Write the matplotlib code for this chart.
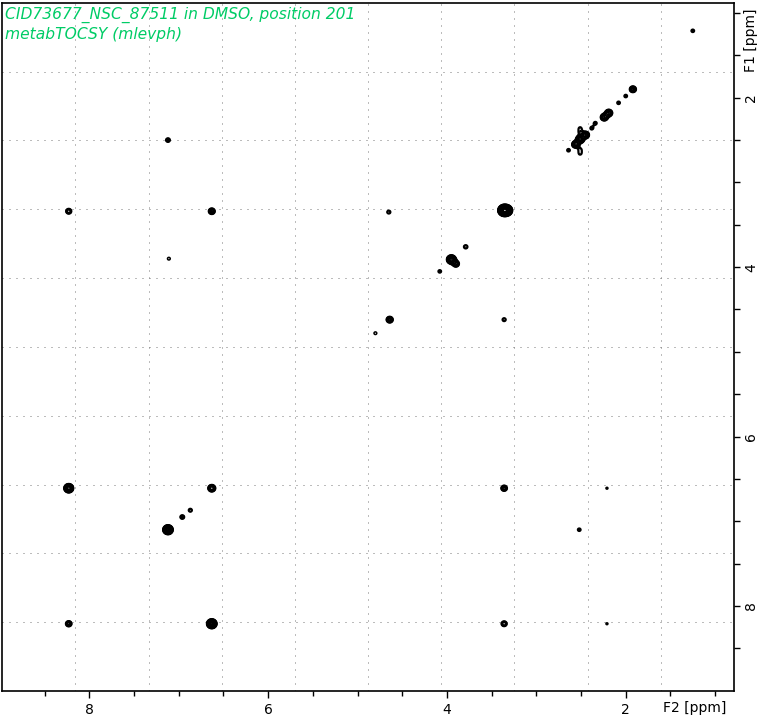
import numpy as np
import matplotlib
matplotlib.use("Agg")
import matplotlib.pyplot as plt

# Peak list: F2 (ppm), F1 (ppm), relative intensity
f2_ppm = [1.25, 1.92, 2.00, 2.08, 2.19, 2.24, 2.34, 2.38, 2.45, 2.51, 2.56, 2.64,
          2.51, 2.51, 2.51, 2.51,
          7.12,
          8.23, 6.63, 4.65, 3.36, 3.33,
          7.11,
          3.95, 3.90, 3.79, 4.08,
          4.64, 4.80, 3.36,
          8.23, 6.63, 3.36, 2.21,
          7.12, 6.96, 6.87, 2.52,
          8.23, 6.63, 3.36, 2.21]
f1_ppm = [1.21, 1.90, 1.98, 2.06, 2.18, 2.23, 2.30, 2.36, 2.44, 2.49, 2.55, 2.62,
          2.36, 2.41, 2.61, 2.66,
          2.50,
          3.34, 3.34, 3.35, 3.33, 3.33,
          3.90,
          3.91, 3.96, 3.76, 4.05,
          4.62, 4.78, 4.62,
          6.61, 6.61, 6.61, 6.61,
          7.10, 6.95, 6.87, 7.10,
          8.21, 8.21, 8.21, 8.21]
intensity = [1.3, 3.0, 1.3, 1.3, 4.0, 4.0, 1.3, 1.3, 4.0, 6.0, 4.0, 1.3,
             1.15, 1.15, 1.15, 1.15,
             1.6,
             2.2, 2.8, 1.4, 40.0, 20.0,
             1.2,
             9.0, 3.0, 1.5, 1.3,
             3.0, 1.2, 1.4,
             9.0, 4.0, 2.5, 1.1,
             12.0, 1.6, 1.4, 1.3,
             2.5, 12.0, 2.2, 1.1]

x_lim = (8.973, 0.789)
y_lim = (9.004, 0.878)

fig = plt.figure(figsize=(7.63, 7.20), dpi=100)
ax = fig.add_axes([2.3 / 763, 1 - 691 / 720, (734 - 2.3) / 763, (691 - 2.7) / 720])

# build the 2D spectrum from the peak list and contour it
gx = np.linspace(x_lim[1], x_lim[0], 1500)
gy = np.linspace(y_lim[1], y_lim[0], 1500)
X, Y = np.meshgrid(gx, gy)
Z = np.zeros_like(X)
sig = 0.026
for px, py, a in zip(f2_ppm, f1_ppm, intensity):
    Z += a * np.exp(-((X - px) ** 2 + (Y - py) ** 2) / (2 * sig ** 2))

levels = 1.0 * 1.22 ** np.arange(0, 24)
ax.contour(X, Y, Z, levels=levels, colors="black", linewidths=1.1)

ax.set_xlim(*x_lim)
ax.set_ylim(*y_lim)

# relative grid: 10 divisions each way
for v in np.linspace(x_lim[0], x_lim[1], 11)[1:-1]:
    ax.axvline(v, color="#7a7a7a", lw=0.72, ls=(0, (1, 6)), zorder=0)
for v in np.linspace(y_lim[0], y_lim[1], 11)[1:-1]:
    ax.axhline(v, color="#7a7a7a", lw=0.72, ls=(0, (1, 6)), zorder=0)

ax.set_xticks([2, 4, 6, 8])
ax.set_xticks(np.arange(1.0, 9.0, 0.5), minor=True)
ax.set_yticks([2, 4, 6, 8])
ax.set_yticks(np.arange(1.0, 9.0, 0.5), minor=True)
ax.yaxis.tick_right()
ax.tick_params(axis="x", which="major", length=5, width=1, pad=3.5, labelsize=10)
ax.tick_params(axis="x", which="minor", length=3.6, width=1)
ax.tick_params(axis="y", which="both", length=4, width=1, pad=3.5, labelsize=10,
               labelrotation=90)
for lab in ax.get_yticklabels():
    lab.set_va("center")
for s in ax.spines.values():
    s.set_linewidth(1.2)

fig.text(695 / 763, 1 - 708 / 720, "F2 [ppm]", ha="center", va="center", fontsize=10)
fig.text(751 / 763, 1 - 40 / 720, "F1 [ppm]", ha="center", va="center", fontsize=10,
         rotation=90)

green = "#00cc66"
fig.text(5 / 763, 1 - 15 / 720, "CID73677_NSC_87511 in DMSO, position 201",
         color=green, style="italic", fontsize=11.2, ha="left", va="center")
fig.text(5 / 763, 1 - 34 / 720, "metabTOCSY (mlevph)",
         color=green, style="italic", fontsize=11.2, ha="left", va="center")

fig.savefig("out.png", dpi=100)
